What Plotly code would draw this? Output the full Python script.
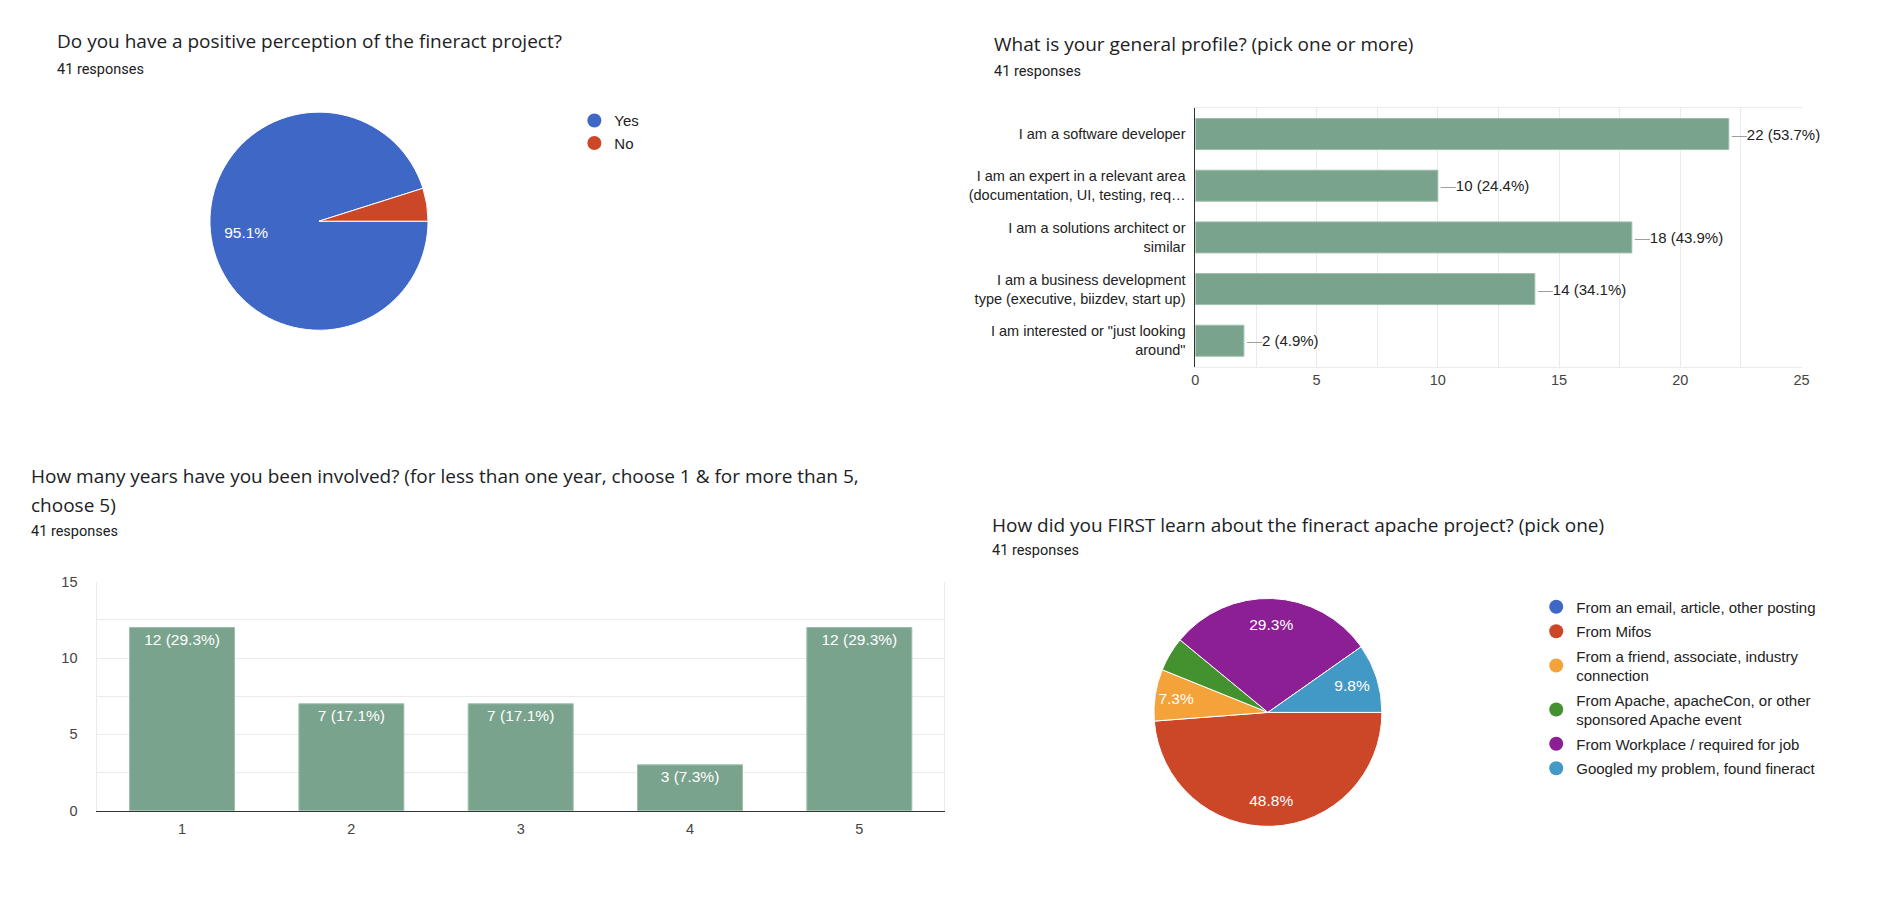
import plotly.graph_objects as go

W, H = 1894, 910

# data
total_responses = 41

perception_labels = ['Yes', 'No']
perception_counts = [39, 2]
perception_colors = ['#3e67c6', '#cc4628']

profile_labels = [
    'I am a software developer',
    'I am an expert in a relevant area<br>(documentation, UI, testing, req…',
    'I am a solutions architect or<br>similar',
    'I am a business development<br>type (executive, biizdev, start up)',
    'I am interested or "just looking<br>around"',
]
profile_counts = [22, 10, 18, 14, 2]

years_labels = ['1', '2', '3', '4', '5']
years_counts = [12, 7, 7, 3, 12]

source_labels = [
    'From an email, article, other posting',
    'From Mifos',
    'From a friend, associate, industry<br>connection',
    'From Apache, apacheCon, or other<br>sponsored Apache event',
    'From Workplace / required for job',
    'Googled my problem, found fineract',
]
source_counts = [0, 20, 3, 2, 12, 4]
source_colors = ['#3e67c6', '#cc4628', '#f3a33a', '#44922f', '#8c1f94', '#4299c6']

bar_color = '#79a38c'
title_font = 'Open Sans, Roboto, Arial, sans-serif'
sub_font = 'Roboto, Arial, sans-serif'
chart_font = 'Liberation Sans, Arial, sans-serif'


def px_x(x):
    return x / W


def px_y(y):
    return 1 - y / H


def pct(c):
    return c / total_responses * 100


def pie_text(counts):
    # google hides labels on slices under 5%
    tot = sum(counts)
    return [f'{c / tot * 100:.1f}%' if tot and c / tot >= 0.05 else '' for c in counts]


def add_pie(labels, counts, colors, dom, hole):
    fig.add_trace(go.Pie(
        labels=labels, values=counts,
        marker=dict(colors=colors, line=dict(color='white', width=1)),
        sort=False, direction='clockwise', rotation=90,
        textinfo='none', domain=dom, showlegend=False,
    ))
    # invisible ring on top, only there to push the labels outwards
    fig.add_trace(go.Pie(
        labels=labels, values=counts, hole=hole,
        marker=dict(colors=['rgba(0,0,0,0)'] * len(counts), line=dict(width=0)),
        sort=False, direction='clockwise', rotation=90,
        text=pie_text(counts), textinfo='text', textposition='inside',
        insidetextorientation='horizontal',
        textfont=dict(family=chart_font, size=15.5, color='white'),
        domain=dom, showlegend=False, hoverinfo='skip',
    ))


fig = go.Figure()

add_pie(perception_labels, perception_counts, perception_colors,
        dict(x=[px_x(206), px_x(428)], y=[px_y(328), px_y(106)]), 0.35)

# horizontal bar
fig.add_trace(go.Bar(
    x=profile_counts, y=profile_labels, orientation='h',
    marker=dict(color=bar_color, line=dict(color='#9cbfab', width=1)),
    text=[f"<span style='color:#9e9e9e'>—</span>{c} ({pct(c):.1f}%)" for c in profile_counts],
    textposition='outside', constraintext='none', cliponaxis=False,
    textfont=dict(family=chart_font, size=15, color='#222'),
    xaxis='x', yaxis='y', showlegend=False, width=0.6,
))

# vertical bar
fig.add_trace(go.Bar(
    x=years_labels, y=years_counts,
    marker=dict(color=bar_color, line=dict(color='#9cbfab', width=1)),
    text=[f'{c} ({pct(c):.1f}%)' for c in years_counts],
    textposition='inside', insidetextanchor='end', constraintext='none',
    textfont=dict(family=chart_font, size=15.5, color='white'),
    xaxis='x2', yaxis='y2', showlegend=False, width=0.62,
))

add_pie(source_labels, source_counts, source_colors,
        dict(x=[px_x(1156), px_x(1388)], y=[px_y(833), px_y(601)]), 0.55)

# legend entries as round markers
for lab, col in zip(perception_labels, perception_colors):
    fig.add_trace(go.Scatter(
        x=[None], y=[None], mode='markers', name=lab, legend='legend',
        legendgroup=lab, marker=dict(color=col, size=14),
        xaxis='x2', yaxis='y2',
    ))
for lab, col in zip(source_labels, source_colors):
    fig.add_trace(go.Scatter(
        x=[None], y=[None], mode='markers', name=lab, legend='legend2',
        legendgroup=lab, marker=dict(color=col, size=14),
        xaxis='x2', yaxis='y2',
    ))

grid = '#ebebeb'
fig.update_layout(
    width=W, height=H,
    margin=dict(l=0, r=0, t=0, b=0),
    paper_bgcolor='white', plot_bgcolor='white',
    font=dict(family=chart_font, size=14, color='#222'),
    xaxis=dict(
        domain=[px_x(1199), px_x(1809)], anchor='y', range=[0, 25],
        dtick=5, showgrid=True, gridcolor=grid, zeroline=False,
        minor=dict(dtick=2.5, showgrid=True, gridcolor=grid),
        showline=True, mirror=True, linecolor=grid,
        tickfont=dict(size=14.5, color='#444'), fixedrange=True,
    ),
    yaxis=dict(
        domain=[px_y(365), px_y(102)], anchor='x', type='category',
        autorange='reversed', showgrid=False, zeroline=False,
        showline=True, linecolor='#333', ticklabelstandoff=6,
        tickfont=dict(size=14.5, color='#222'),
    ),
    xaxis2=dict(
        domain=[px_x(94), px_x(946)], anchor='y2', type='category',
        showgrid=False, zeroline=False, showline=True, linecolor='#333',
        ticklabelstandoff=5, tickfont=dict(size=14.5, color='#444'),
    ),
    yaxis2=dict(
        domain=[px_y(817), px_y(584)], anchor='x2', range=[0, 15],
        dtick=5, showgrid=True, gridcolor=grid, zeroline=False,
        minor=dict(dtick=2.5, showgrid=True, gridcolor=grid),
        showline=True, mirror=True, linecolor=grid, ticklabelstandoff=16,
        tickfont=dict(size=14.5, color='#444'),
    ),
    legend=dict(
        x=px_x(574), y=px_y(98), xanchor='left', yanchor='top',
        font=dict(size=15, color='#222'), traceorder='grouped',
        tracegroupgap=0, bgcolor='rgba(0,0,0,0)',
    ),
    legend2=dict(
        x=px_x(1542), y=px_y(593), xanchor='left', yanchor='top',
        font=dict(size=15, color='#222'), traceorder='grouped',
        tracegroupgap=2, bgcolor='rgba(0,0,0,0)',
    ),
    bargap=0.4,
)

titles = [
    (51, 34, 'Do you have a positive perception of the fineract project?'),
    (994, 37, 'What is your general profile? (pick one or more)'),
    (25, 476, 'How many years have you been involved? (for less than one year, choose 1 & for more than 5,'),
    (25, 506, 'choose 5)'),
    (992, 526, 'How did you FIRST learn about the fineract apache project? (pick one)'),
]
for x, y, t in titles:
    fig.add_annotation(x=px_x(x), y=px_y(y), xref='paper', yref='paper',
                       xanchor='left', yanchor='middle', showarrow=False, text=t,
                       font=dict(family=title_font, size=19, color='#202124'))

subtitles = [(51, 63), (994, 65), (25, 533), (992, 552)]
for x, y in subtitles:
    fig.add_annotation(x=px_x(x), y=px_y(y), xref='paper', yref='paper',
                       xanchor='left', yanchor='middle', showarrow=False,
                       text=f'{total_responses} responses',
                       font=dict(family=sub_font, size=14.5, color='#202124'))

fig.write_html('out.html', config={'displayModeBar': False},
               post_script="document.body.style.margin = '0';")
